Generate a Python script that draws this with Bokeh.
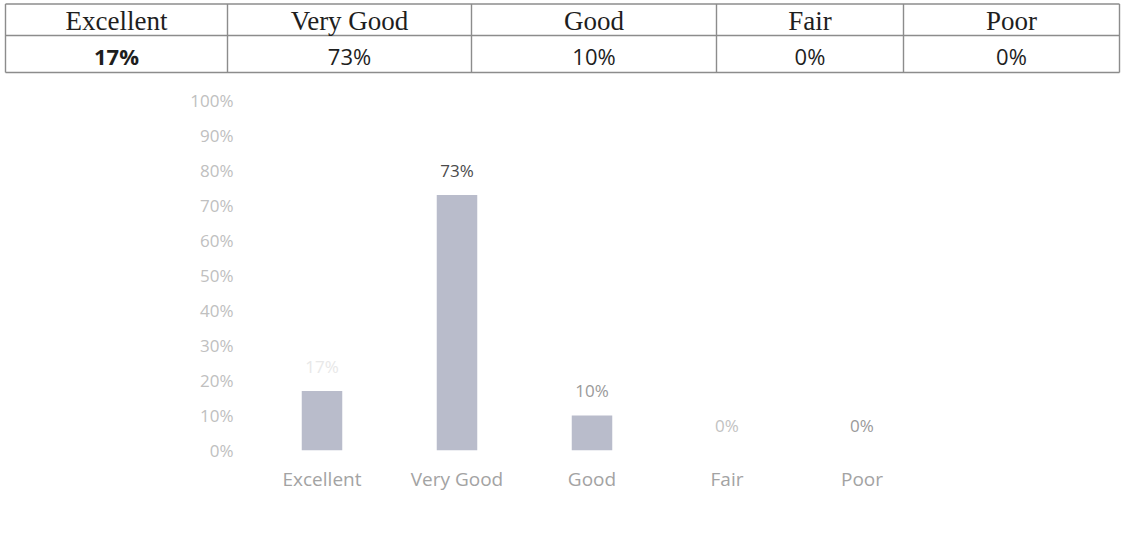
from bokeh.plotting import figure
from bokeh.layouts import column
from bokeh.models import (Range1d, FactorRange, FixedTicker, PrintfTickFormatter,
                          ColumnDataSource)
from bokeh.core.properties import value
from bokeh.embed import file_html
from bokeh.resources import INLINE

# ---- data ----
categories = ["Excellent", "Very Good", "Good", "Fair", "Poor"]
percent = [17, 73, 10, 0, 0]
y_ticks = [0, 10, 20, 30, 40, 50, 60, 70, 80, 90, 100]

pct_text = [f"{v}%" for v in percent]

# ---- styles ----
col_edges = [5, 227, 471, 716, 903, 1119]
row_lines = [3.5, 35, 72]
value_styles = ["bold", "normal", "normal", "normal", "normal"]
label_colors = ["#e8e8e8", "#4a4a4a", "#9a9a9a", "#c2c2c2", "#9a9a9a"]

W = 1121
TH = 76
CH = 453

# ---- table figure (coordinates in page pixels) ----
tbl = figure(width=W, height=TH, x_range=Range1d(0, W), y_range=Range1d(TH, 0),
             x_axis_type=None, y_axis_type=None, toolbar_location=None,
             output_backend="svg", title=None, min_border=0)
tbl.frame_align = False
tbl.outline_line_color = None
tbl.grid.visible = False

tbl.segment(x0=[col_edges[0]] * len(row_lines), x1=[col_edges[-1]] * len(row_lines),
            y0=row_lines, y1=row_lines, line_color="#8c8c8c", line_width=1.4)
tbl.segment(x0=col_edges, x1=col_edges, y0=[row_lines[0]] * len(col_edges),
            y1=[row_lines[-1]] * len(col_edges), line_color="#8c8c8c", line_width=1.4)

centers = [(a + b) / 2 for a, b in zip(col_edges[:-1], col_edges[1:])]
tsrc = ColumnDataSource(dict(x=centers, hy=[20] * 5, vy=[55] * 5,
                             head=categories, val=pct_text, style=value_styles))
tbl.text(x="x", y="hy", text="head", source=tsrc, text_align="center",
         text_baseline="middle", text_font=value("Liberation Serif"),
         text_font_size="27px", text_color="#1e1e1e")
tbl.text(x="x", y="vy", text="val", source=tsrc, text_align="center",
         text_baseline="middle", text_font=value("Open Sans"),
         text_font_size="22px", text_color="#1e1e1e", text_font_style="style")

# ---- chart figure ----
p = figure(width=W, height=CH, x_range=FactorRange(*categories, range_padding=0),
           y_range=Range1d(0, 100), toolbar_location=None, output_backend="svg",
           title=None, min_border_left=254, min_border_right=192,
           min_border_top=24, min_border_bottom=79)
p.frame_align = False
p.outline_line_color = None
p.grid.visible = False

src = ColumnDataSource(dict(cat=categories, val=percent, lab=pct_text, col=label_colors))
p.vbar(x="cat", top="val", width=0.3, source=src, fill_color="#b9bccb",
       line_color=None)
p.text(x="cat", y="val", text="lab", source=src, text_align="center",
       text_baseline="middle", y_offset=-25, text_color="col",
       text_font=value("Open Sans"), text_font_size="17px")

p.yaxis.ticker = FixedTicker(ticks=y_ticks)
p.yaxis.formatter = PrintfTickFormatter(format="%d%%")
p.yaxis.axis_line_color = None
p.yaxis.major_tick_line_color = None
p.yaxis.minor_tick_line_color = None
p.yaxis.major_label_standoff = 15
p.yaxis.major_label_text_color = "#c0c0c0"
p.yaxis.major_label_text_font = "Open Sans"
p.yaxis.major_label_text_font_size = "17px"

p.xaxis.axis_line_color = None
p.xaxis.major_tick_line_color = None
p.xaxis.minor_tick_line_color = None
p.xaxis.major_label_standoff = 9
p.xaxis.major_label_text_color = "#a3a3a3"
p.xaxis.major_label_text_font = "Open Sans"
p.xaxis.major_label_text_font_size = "19px"

layout = column(tbl, p, spacing=0)
open("out.html", "w").write(file_html(layout, INLINE))
